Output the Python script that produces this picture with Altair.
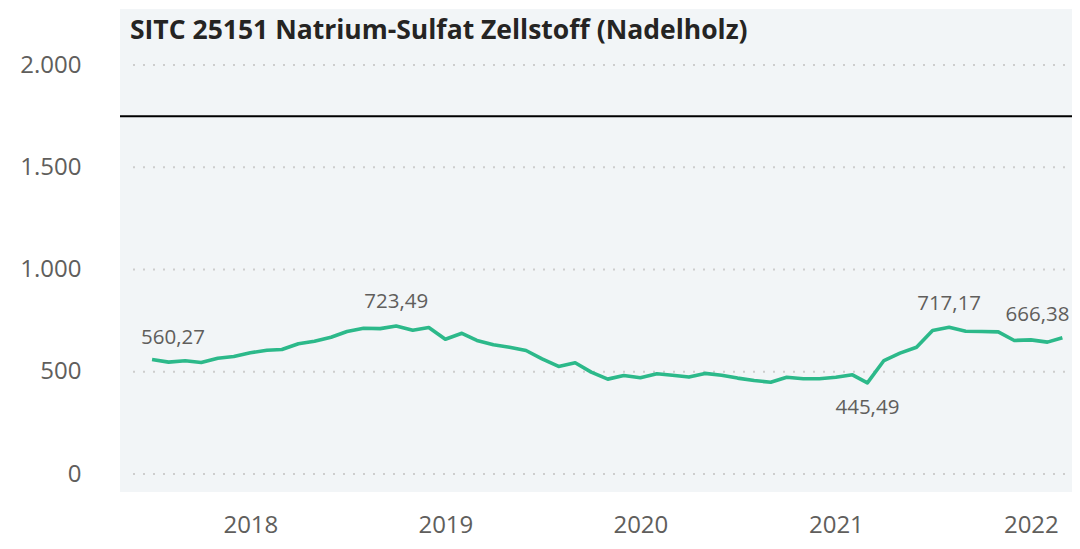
import altair as alt
import pandas as pd

# ---- data ----
start_month = "2017-07-01"
values = [560.27, 547, 554, 545, 566, 575, 593, 605, 609, 637, 649, 669,
          697, 713, 711, 723.49, 703, 716, 659, 688, 653, 632, 620, 604,
          563, 526, 544, 498, 464, 482, 471, 490, 483, 474, 492, 483,
          469, 457, 449, 473, 466, 466, 473, 485, 445.49, 555, 591, 620,
          702, 717.17, 698, 697, 695, 653, 656, 645, 666.38]
y_ticks = [0, 500, 1000, 1500, 2000]
ref_value = 1750
year_ticks = [2018, 2019, 2020, 2021, 2022]
title_text = "SITC 25151 Natrium-Sulfat Zellstoff (Nadelholz)"

dates = pd.date_range(start_month, periods=len(values), freq="MS").strftime("%Y-%m-%d")
df = pd.DataFrame({"date": dates, "value": values})
df["label"] = df["value"].map(lambda v: f"{v:.2f}".replace(".", ","))

W, H = 952, 483
FONT = "Open Sans"
GREEN = "#2CB98A"
GRAY = "#605E5C"

x_scale = alt.Scale(type="utc",
                    domain=[alt.DateTime(year=2017, month=5, date=2, utc=True),
                            alt.DateTime(year=2022, month=3, date=19, utc=True)])
y_scale = alt.Scale(domain=[-88, 2274], nice=False, zero=False)

x_enc = alt.X("date:T", scale=x_scale,
              axis=alt.Axis(title=None, values=[alt.DateTime(year=y, month=1, date=1, utc=True) for y in year_ticks],
                            format="%Y", domain=False, ticks=False, grid=False,
                            labelFont=FONT, labelFontSize=24, labelColor=GRAY,
                            labelPadding=40, labelBaseline="alphabetic", labelFlush=False))
y_enc = alt.Y("value:Q", scale=y_scale,
              axis=alt.Axis(title=None, values=y_ticks, domain=False, ticks=False, grid=False,
                            labelFont=FONT, labelFontSize=24, labelColor=GRAY, labelPadding=39,
                            labelExpr="replace(format(datum.value, ','), ',', '.')"))

grid_df = pd.DataFrame({"value": y_ticks})
grid = alt.Chart(grid_df).mark_rule(color="#CDCDCD", strokeWidth=2, strokeDash=[2, 8]).encode(
    y=alt.Y("value:Q", scale=y_scale), x=alt.value(13), x2=alt.value(W))

ref = alt.Chart(pd.DataFrame({"value": [ref_value]})).mark_rule(color="#000000", strokeWidth=2).encode(
    y=alt.Y("value:Q", scale=y_scale), x=alt.value(0), x2=alt.value(W))

line = alt.Chart(df).mark_line(color=GREEN, strokeWidth=3.6, strokeJoin="round").encode(x=x_enc, y=y_enc)

def lab(idx, align, dx, dy):
    sub = df.iloc[[idx]]
    return alt.Chart(sub).mark_text(font=FONT, fontSize=20.5, color=GRAY, align=align,
                                    baseline="middle", dx=dx, dy=dy).encode(
        x=alt.X("date:T", scale=x_scale), y=alt.Y("value:Q", scale=y_scale), text="label:N")

n = len(values)
imax = values.index(max(values[:30]))
imin = values.index(min(values))
imax2 = values.index(max(values[40:]))
labels = [lab(0, "left", -11, -21), lab(imax, "center", 0, -24), lab(imin, "center", 0, 25),
          lab(imax2, "center", 0, -23), lab(n - 1, "right", 7, -23)]

title = alt.Chart(pd.DataFrame({"t": [title_text]})).mark_text(
    font=FONT, fontSize=26.5, fontWeight="bold", color="#252423", align="left", baseline="middle").encode(
    x=alt.value(10), y=alt.value(22), text="t:N")

chart = alt.layer(grid, ref, line, *labels, title).properties(
    width=W, height=H,
    padding={"left": 112, "top": 1, "right": 0, "bottom": 49},
    autosize=alt.AutoSizeParams(type="none"),
    background="#FFFFFF",
).configure_view(fill="#F2F5F7", strokeWidth=0)

chart.save("out.html", embed_options={"renderer": "svg", "actions": False})
